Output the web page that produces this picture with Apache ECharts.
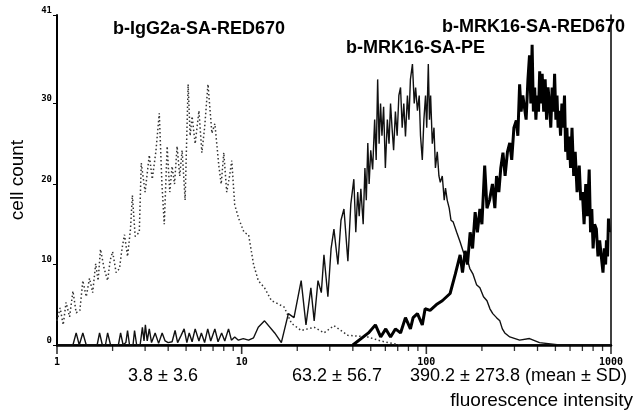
<!DOCTYPE html>
<html>
<head>
<meta charset="utf-8">
<script src="https://cdn.jsdelivr.net/npm/echarts@6/dist/echarts.min.js"></script>
<style>
  html, body { margin: 0; padding: 0; background: #fff; }
  #chart { width: 634px; height: 411px; }
</style>
</head>
<body>
<div id="chart"></div>
<script>
// b-IgG2a-SA-RED670 (dotted)
var igX = [1.0, 1.04, 1.08, 1.12, 1.17, 1.22, 1.27, 1.33, 1.38, 1.44, 1.50, 1.56, 1.62, 1.67, 1.72, 1.80, 1.88, 1.94, 2.0, 2.09,
  2.18, 2.25, 2.32, 2.41, 2.50, 2.56, 2.65, 2.79, 2.86, 3.0, 3.16, 3.28, 3.43, 3.58, 3.7, 3.81, 3.95, 4.08, 4.20, 4.33,
  4.47, 4.62, 4.76, 4.94, 5.13, 5.26, 5.39, 5.6, 5.87, 6.09, 6.3, 6.57, 6.9, 7.16, 7.52, 7.75, 8.0, 8.3, 8.6, 8.84,
  9.17, 9.64, 10.3, 10.9, 11.6, 12.3, 13.3, 14.5, 15.8, 17.0, 18.6, 21.0, 24.7, 27.9, 31.6, 37.6, 48.2, 56.6, 72];
var igY = [3, 4.6, 2.5, 5.3, 3.5, 6.7, 4.0, 4.3, 8.0, 6.0, 8.3, 6.5, 10.1, 8.0, 11.9, 9.5, 8.0, 10.5, 11.6, 9.0,
  9.5, 12.0, 13.7, 11.0, 14.4, 18.6, 13.5, 14.0, 22.6, 19.0, 23.6, 20.6, 24.0, 28.8, 20.0, 15.0, 24.7, 19.0, 22.2, 20.0,
  24.7, 21.0, 24.2, 18.0, 32.4, 26.0, 28.4, 25.0, 29.1, 23.9, 27.0, 32.4, 26.3, 27.5, 22.3, 20.0, 23.9, 19.0, 21.0, 22.9,
  17.4, 15.7, 14.0, 13.7, 10.0, 8.0, 7.1, 5.5, 5.1, 4.7, 2.7, 1.8, 2.2, 1.5, 2.4, 1.2, 1.0, 0.5, 0];

// b-MRK16-SA-PE (thin solid)
var peX = [1, 1.22, 1.27, 1.32, 1.38, 1.44, 1.65, 1.70, 1.76, 1.83, 1.88, 1.95, 2.15, 2.21, 2.28, 2.36, 2.41, 2.47, 2.58, 2.63,
  2.7, 2.82, 2.9, 2.96, 3.01, 3.08, 3.16, 3.25, 3.4, 3.55, 3.71, 3.85, 4.0, 4.2, 4.36, 4.5, 4.7, 4.88, 5.05, 5.2,
  5.39, 5.6, 5.87, 6.05, 6.3, 6.55, 6.8, 7.16, 7.45, 7.79, 8.1, 8.49, 8.8, 9.17, 9.6, 10.2, 10.9, 11.6, 12.3, 13.3,
  15.1, 16.4, 17.9, 19.2, 21.0, 22.3, 23.7, 24.7, 25.9, 27.0, 27.9, 29.3, 30.5, 31.6, 33.2, 34.5, 35.8, 37.6, 39, 40.5,
  41.5, 42.5, 43.3, 44.2, 45.5, 46.5, 47.3, 48.2, 49, 50, 51.2, 52.5, 53.5, 54.5, 55.5, 56.5, 57.5, 58.7, 60, 61.5,
  62.8, 64, 65.2, 66.5, 68, 69.5, 71, 72.5, 74, 75.5, 77.1, 79, 80.5, 82, 84.1, 86, 87.5, 89.5, 91.5, 93,
  95.1, 97, 99, 100.5, 102.5, 104, 105.5, 107.7, 110, 112, 114.6, 117, 119, 122, 125, 127, 129.7, 133, 136, 139.7,
  146, 152.4, 159, 166, 172, 179, 187, 195, 204, 213, 221, 229, 240, 250, 258, 266, 283, 320, 362, 410, 525, 1000];
var peY = [0, 0, 1.5, 0, 1.5, 0, 0, 1.5, 0, 0, 1.5, 0, 0, 1.5, 0, 0.3, 1.8, 0, 0, 1.8,
  0, 0, 2.2, 0.5, 2.5, 0.5, 2.0, 0.3, 1.5, 0.2, 1.5, 0.5, 0.3, 0.4, 1.8, 0.3, 1.2, 2.0, 0.3, 1.5,
  0.4, 2.0, 0.5, 1.5, 0.3, 2.0, 0.5, 2.0, 0.4, 1.5, 0.5, 2.0, 0.6, 1.0, 0.6, 0.8, 0.6, 0.9, 2.2, 3.0,
  1.5, 0.3, 3.9, 3.4, 8.0, 2.5, 7.1, 3.0, 8.0, 6.5, 11.2, 6.0, 12.0, 14.4, 10.0, 15.5, 16.9, 10.4, 17.5, 20.6,
  14.0, 19.0, 16.0, 19.4, 15.0, 22.0, 18.0, 25.1, 20.0, 24.2, 21.8, 28.0, 23.0, 33.0, 25.0, 30.0, 26.0, 29.6, 22.0, 28.0,
  25.0, 30.0, 27.0, 24.2, 29.0, 26.0, 31.0, 32.0, 27.0, 30.0, 25.9, 31.0, 28.0, 33.0, 34.9, 30.0, 32.0, 29.1, 31.0, 26.0,
  23.0, 28.0, 31.0, 27.0, 34.9, 28.0, 31.0, 25.0, 27.0, 22.0, 24.0, 21.0, 20.2, 21.0, 18.0, 19.5, 18.0, 17.0, 15.5, 15.3,
  14.0, 12.8, 11.5, 10.8, 9.5, 8.8, 7.5, 7.1, 6.0, 5.5, 4.5, 3.9, 3.4, 3.0, 2.0, 1.5, 1.0, 0.6, 0.8, 0.3, 0, 0];

// b-MRK16-SA-RED670 (thick solid)
var redX = [40, 48.6, 53, 56.6, 60.3, 64, 68, 72.5, 77.1, 82.0, 84.8, 89.5, 95.1, 98.5, 104.8, 114.6, 122, 134.5, 143.5, 152.4,
  157, 162.3, 167, 172.7, 178, 183.8, 189, 195, 200, 207, 213, 220, 228, 235, 240, 247, 253, 260, 267, 275,
  283, 290, 298, 307, 313, 320, 326, 333, 340, 347, 355, 362, 368, 374, 380, 386, 392, 398, 405, 411,
  417, 424, 432, 440, 448, 456, 464, 472, 480, 488, 495, 503, 510, 517, 525, 533, 542, 551, 560, 568,
  577, 585, 594, 604, 615, 628, 640, 655, 673, 686, 700, 715, 730, 745, 762, 775, 787, 800, 815, 833,
  850, 868, 888, 905, 920, 935, 945, 958, 969, 980];
var redY = [0, 1.5, 2.5, 1.0, 2.0, 1.0, 2.0, 1.5, 3.4, 2.0, 3.4, 3.9, 2.5, 4.5, 4.3, 5.1, 5.5, 6.4, 8.8, 11.2,
  9.0, 11.7, 10.0, 14.0, 12.0, 16.5, 14.0, 16.9, 15.0, 22.3, 17.0, 18.0, 20.0, 17.0, 21.0, 19.0, 22.0, 23.9, 21.0, 24.0,
  25.1, 23.0, 27.0, 27.9, 26.0, 32.4, 29.0, 31.0, 31.2, 28.0, 33.0, 36.0, 30.0, 37.3, 29.0, 32.0, 28.0, 31.0, 29.0, 34.0,
  30.0, 33.7, 29.0, 33.0, 28.0, 32.0, 30.0, 27.0, 32.0, 29.0, 33.7, 28.0, 31.0, 27.0, 29.1, 26.0, 30.0, 27.0, 31.0, 24.0,
  27.0, 23.0, 25.9, 22.0, 27.0, 21.0, 24.0, 19.0, 22.3, 18.0, 19.0, 15.0, 20.0, 16.0, 21.8, 14.0, 16.9, 12.0, 15.0, 14.4,
  11.0, 13.0, 10.8, 9.0, 12.0, 10.0, 13.0, 11.0, 15.7, 14.0];

var yTicks = [0, 10, 20, 30, 41];
var xLabels = [1, 10, 100, 1000];
var xMinorTicks = [2, 3, 4, 5, 6, 7, 8, 9, 20, 30, 40, 50, 60, 70, 80, 90, 200, 300, 400, 500, 600, 700, 800, 900];

function pairs(xs, ys) {
  return xs.map(function (x, i) { return [x, ys[i]]; });
}
// tick marks sit on the count-0 baseline
function baseline(xs) {
  return xs.map(function (x) { return [x, 0]; });
}

var chart = echarts.init(document.getElementById('chart'));
var font = 'Liberation Sans, Arial, sans-serif';

chart.setOption({
  animation: false,
  grid: { left: 55, right: 23, top: 15, bottom: 66 },
  xAxis: [{
    type: 'log', min: 1, max: 1000,
    axisLine: { lineStyle: { color: '#000', width: 2.5 } },
    axisTick: { show: false },
    axisLabel: {
      customValues: xLabels, color: '#000', fontSize: 10, fontWeight: 'bold', fontFamily: 'DejaVu Sans Mono', margin: 12,
      formatter: function (v) { return String(v); }
    },
    splitLine: { show: false }
  }, {
    // top frame line
    type: 'log', min: 1, max: 1000, position: 'top',
    axisLine: { show: true, lineStyle: { color: '#000', width: 1.5 } },
    axisTick: { show: false }, axisLabel: { show: false }, splitLine: { show: false }
  }],
  yAxis: [{
    type: 'value', min: 0, max: 41,
    axisLine: { show: true, lineStyle: { color: '#000', width: 2 } },
    axisTick: { show: true, customValues: yTicks, length: 4, lineStyle: { color: '#000' } },
    axisLabel: { customValues: yTicks, color: '#000', fontSize: 9, fontWeight: 'bold', fontFamily: 'DejaVu Sans Mono', margin: 5, verticalAlign: 'bottom' },
    splitLine: { show: false },
    name: 'cell count', nameLocation: 'middle', nameGap: 30,
    nameTextStyle: { color: '#000', fontSize: 19, fontFamily: font }
  }, {
    // right frame line
    type: 'value', min: 0, max: 41, position: 'right',
    axisLine: { show: true, lineStyle: { color: '#000', width: 1.5 } },
    axisTick: { show: false }, axisLabel: { show: false }, splitLine: { show: false }
  }],
  series: [{
    name: 'b-IgG2a-SA-RED670', type: 'line', data: pairs(igX, igY), showSymbol: false,
    lineStyle: { color: '#333', width: 1.5, type: [1.5, 2.5] }
  }, {
    name: 'b-MRK16-SA-PE', type: 'line', data: pairs(peX, peY), showSymbol: false,
    lineStyle: { color: '#111', width: 1.4 }
  }, {
    name: 'b-MRK16-SA-RED670', type: 'line', data: pairs(redX, redY), showSymbol: false,
    lineStyle: { color: '#000', width: 3 }
  }, {
    // x-axis major ticks
    type: 'scatter', data: baseline(xLabels), clip: false, silent: true, z: 10,
    symbol: 'rect', symbolSize: [1.6, 9], symbolOffset: [0, 4.5],
    itemStyle: { color: '#000' }
  }, {
    // x-axis minor ticks
    type: 'scatter', data: baseline(xMinorTicks), clip: false, silent: true, z: 10,
    symbol: 'rect', symbolSize: [1.3, 6], symbolOffset: [0, 3],
    itemStyle: { color: '#000' }
  }],
  graphic: [
    { type: 'text', left: 113, top: 20, style: { text: 'b-IgG2a-SA-RED670', font: 'bold 18px ' + font, fill: '#000' } },
    { type: 'text', left: 346, top: 39, style: { text: 'b-MRK16-SA-PE', font: 'bold 18px ' + font, fill: '#000' } },
    { type: 'text', left: 442, top: 18, style: { text: 'b-MRK16-SA-RED670', font: 'bold 18px ' + font, fill: '#000' } },
    { type: 'text', left: 128, top: 367, style: { text: '3.8 ± 3.6', font: '18px ' + font, fill: '#000' } },
    { type: 'text', left: 292, top: 367, style: { text: '63.2 ± 56.7', font: '18px ' + font, fill: '#000' } },
    { type: 'text', left: 410, top: 367, style: { text: '390.2 ± 273.8 (mean ± SD)', font: '18px ' + font, fill: '#000' } },
    { type: 'text', right: 1, top: 391, style: { text: 'fluorescence intensity', font: '19px ' + font, fill: '#000' } }
  ]
});
</script>
</body>
</html>
